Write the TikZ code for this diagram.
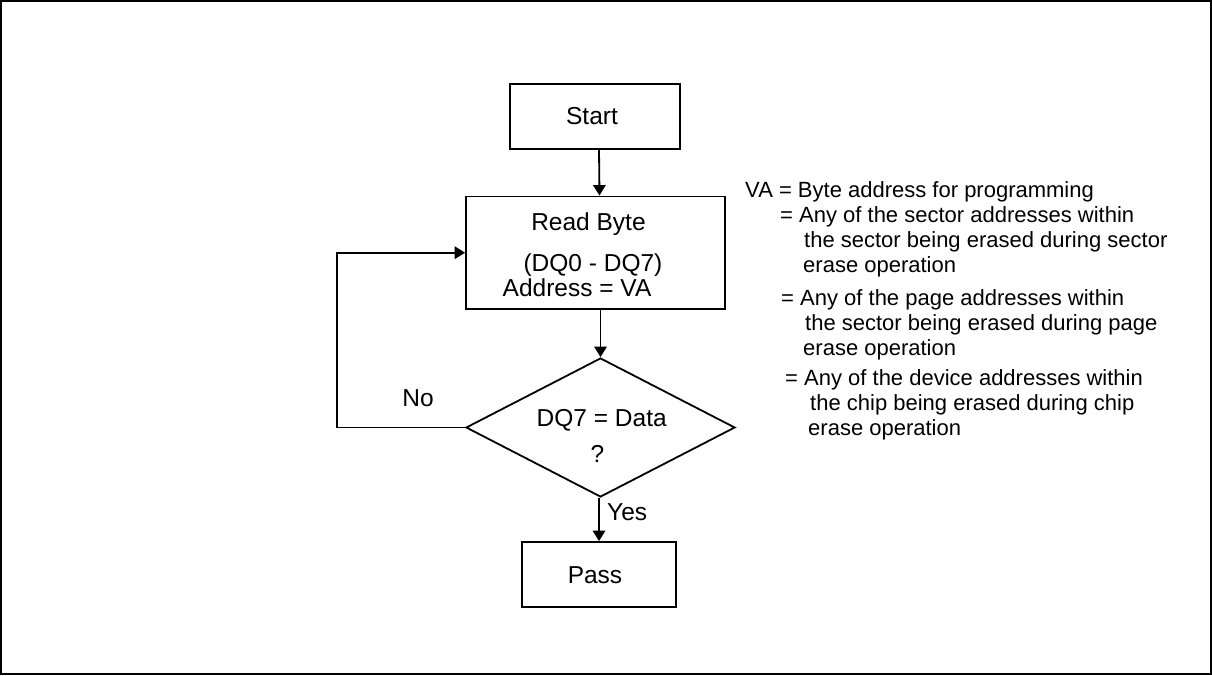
\documentclass[tikz,border=0pt]{standalone}
\usepackage{fontspec}
\setmainfont{Liberation Sans}
\usetikzlibrary{arrows.meta,shapes.geometric}
\begin{document}
\begin{tikzpicture}[x=1pt,y=-1pt,
  box/.style={draw, line width=1.8pt, inner sep=0pt},
  arr/.style={line width=1.8pt, -{Triangle[length=10.5pt,width=12.5pt]}},
  btxt/.style={font=\fontsize{24.5}{29}\selectfont, anchor=base, inner sep=0pt},
  ntxt/.style={font=\fontsize{22}{25}\selectfont, anchor=base west, inner sep=0pt}]
\useasboundingbox (0,0) rectangle (1212,675);
\draw[line width=2.2pt] (1.3,1.1) rectangle (1210.9,673.9);
% boxes
\node[box, minimum width=170pt, minimum height=65pt] (start) at (595,116.5) {};
\node[box, minimum width=259pt, minimum height=112.5pt] (read) at (595.5,252.7) {};
\node[box, shape=diamond, aspect=1.935, minimum width=269pt, minimum height=139pt] (dec) at (600.5,427.5) {};
\node[box, minimum width=154pt, minimum height=65pt] (pass) at (599,574.5) {};
% texts
\node[btxt] (tstart) at (592,124.3) {Start};
\node[btxt] (tread1) at (588.5,230.5) {Read Byte};
\node[btxt] (tread2) at (593,271) {(DQ0 - DQ7)};
\node[btxt] (tread3) at (577,296.5) {Address = VA};
\node[btxt] (tdec1) at (601.7,426.7) {DQ7 = Data};
\node[btxt] (tdec2) at (597.5,462.7) {?};
\node[btxt] (tpass) at (595,583.3) {Pass};
\node[btxt] (tno) at (418,406) {No};
\node[btxt, anchor=base west] (tyes) at (607,520.7) {Yes};
% connectors
\coordinate (loopa) at (337,427.5);
\coordinate (loopb) at (337,252.7);
\draw[arr] ([xshift=4pt]start.south) -- ([xshift=4pt]read.north);
\draw[arr] (read.south -| dec.north) -- (dec.north);
\draw[arr] (dec.south -| pass.north) -- (pass.north);
\draw[arr] (dec.west) -- (loopa) -- (loopb) -- (read.west);
% notes
\node[ntxt] (n1) at (745,197) {VA = Byte address for programming};
\node[ntxt] (n2) at (780,222) {= Any of the sector addresses within};
\node[ntxt] (n3) at (804,247) {the sector being erased during sector};
\node[ntxt] (n4) at (803,272) {erase operation};
\node[ntxt] (n5) at (781,305) {= Any of the page addresses within};
\node[ntxt] (n6) at (805,330) {the sector being erased during page};
\node[ntxt] (n7) at (803,355) {erase operation};
\node[ntxt] (n8) at (785,385) {= Any of the device addresses within};
\node[ntxt] (n9) at (810,410) {the chip being erased during chip};
\node[ntxt] (n10) at (808,435) {erase operation};
\end{tikzpicture}
\end{document}
